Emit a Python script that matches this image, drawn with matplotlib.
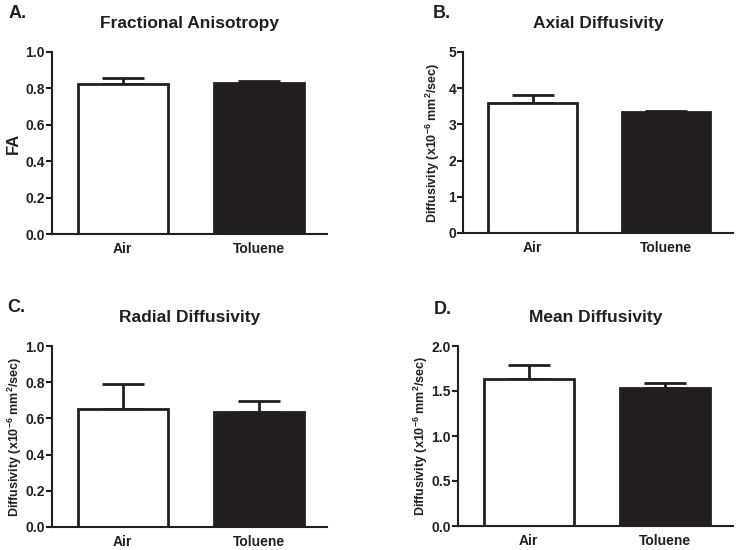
import matplotlib
matplotlib.use("Agg")
import matplotlib.pyplot as plt

plt.rcParams['font.family'] = ['Liberation Sans', 'DejaVu Sans']
plt.rcParams['font.weight'] = 'bold'
plt.rcParams['mathtext.fontset'] = 'custom'
plt.rcParams['mathtext.rm'] = 'Liberation Sans:bold'
plt.rcParams['mathtext.default'] = 'rm'

INK = '#231f20'

groups = ['Air', 'Toluene']
panel_letters = ['A.', 'B.', 'C.', 'D.']
titles = ['Fractional Anisotropy', 'Axial Diffusivity', 'Radial Diffusivity', 'Mean Diffusivity']
ylabels = ['FA',
           r'Diffusivity (x10$^{-6}$ mm$^{2}$/sec)',
           r'Diffusivity (x10$^{-6}$ mm$^{2}$/sec)',
           r'Diffusivity (x10$^{-6}$ mm$^{2}$/sec)']

fa_mean = [0.825, 0.830]
fa_sem = [0.034, 0.013]
ad_mean = [3.60, 3.33]
ad_sem = [0.21, 0.04]
rd_mean = [0.653, 0.633]
rd_sem = [0.138, 0.063]
md_mean = [1.635, 1.535]
md_sem = [0.150, 0.055]

yticks_list = [
    [0.0, 0.2, 0.4, 0.6, 0.8, 1.0],
    [0, 1, 2, 3, 4, 5],
    [0.0, 0.2, 0.4, 0.6, 0.8, 1.0],
    [0.0, 0.5, 1.0, 1.5, 2.0],
]
ytick_fmt = ['{:.1f}', '{:.0f}', '{:.1f}', '{:.1f}']

means = [fa_mean, ad_mean, rd_mean, md_mean]
sems = [fa_sem, ad_sem, rd_sem, md_sem]

W, H = 738, 550
fig = plt.figure(figsize=(W / 100, H / 100), dpi=100)

# axes boxes in pixels: left, top, right, bottom
boxes = [
    (52, 52, 327, 234),
    (463, 52, 733, 233),
    (52, 346, 327, 527),
    (458, 346, 733, 526),
]
letter_pos = [(9, 13), (433, 14), (7, 308), (434, 309)]
ylabel_x = [13, 433, 15, 421]

for i in range(4):
    l, t, r, b = boxes[i]
    ax = fig.add_axes([l / W, (H - b) / H, (r - l) / W, (b - t) / H])
    xs = range(len(groups))
    ax.bar(xs, means[i], width=0.66, color=['white', INK],
           edgecolor=INK, linewidth=2.0, zorder=2)
    ax.errorbar(xs, means[i], yerr=[[0, 0], sems[i]], fmt='none',
                ecolor=INK, elinewidth=2.0, capsize=15, capthick=2.0, zorder=1)
    yt = yticks_list[i]
    ax.set_ylim(yt[0], yt[-1])
    ax.set_yticks(yt)
    ax.set_yticklabels([ytick_fmt[i].format(v) for v in yt])
    ax.set_xlim(-0.52, 1.5)
    ax.set_xticks(list(xs))
    ax.set_xticklabels(groups)
    for s in ['top', 'right']:
        ax.spines[s].set_visible(False)
    for s in ['left', 'bottom']:
        ax.spines[s].set_linewidth(1.5)
        ax.spines[s].set_color(INK)
    ax.tick_params(axis='y', length=4, width=1.5, color=INK, labelsize=10,
                   labelcolor=INK, pad=1)
    ax.tick_params(axis='x', length=0, labelsize=10, labelcolor=INK, pad=6)
    ax.set_title(titles[i], fontsize=12.5, fontweight='bold', color=INK, pad=17)
    fs = 12 if i == 0 else 9
    fig.text(ylabel_x[i] / W, (H - (t + b) / 2) / H, ylabels[i], rotation=90,
             ha='center', va='center', fontsize=fs, fontweight='bold', color=INK)
    fig.text(letter_pos[i][0] / W, 1 - letter_pos[i][1] / H, panel_letters[i],
             ha='left', va='center', fontsize=13, fontweight='bold', color=INK)

fig.savefig('out.png', dpi=100)
